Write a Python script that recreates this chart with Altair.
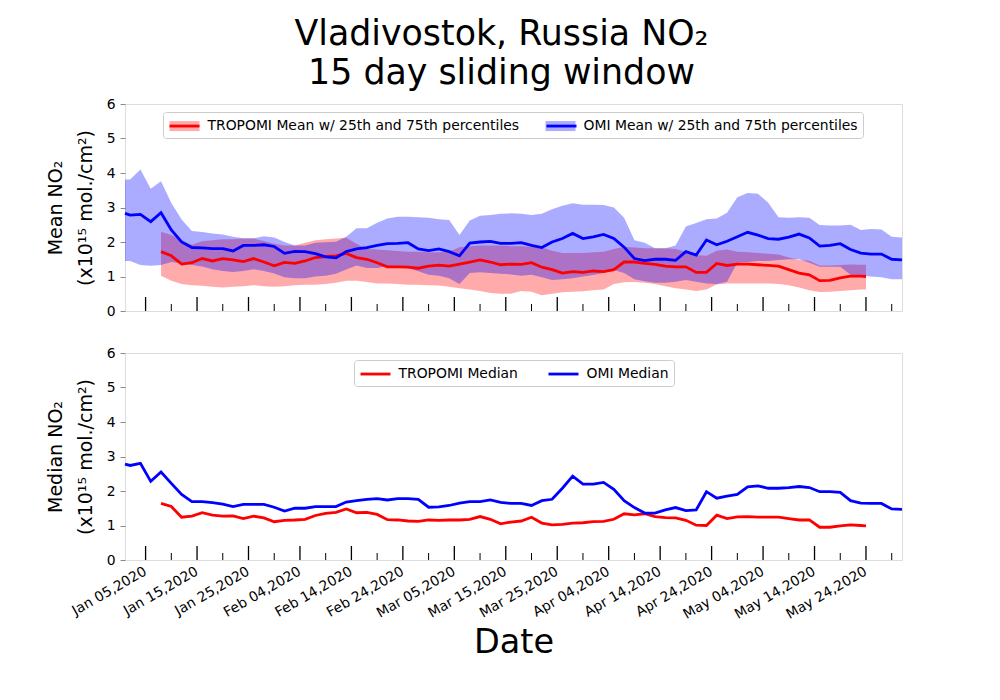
import altair as alt
import pandas as pd

START = pd.Timestamp("2020-01-01")
FONT = "DejaVu Sans"

# day offsets from 2020-01-01
omi_days = [0] + list(range(1, 152, 2))
trop_days = list(range(7, 144, 2)) + [144]

omi_mean = [2.83, 2.78, 2.80, 2.59, 2.85, 2.35, 2.00, 1.84, 1.83, 1.81,
            1.81, 1.74, 1.90, 1.90, 1.92, 1.87, 1.67, 1.73, 1.72, 1.66,
            1.57, 1.54, 1.72, 1.80, 1.84, 1.90, 1.95, 1.96, 1.98, 1.80,
            1.75, 1.80, 1.72, 1.60, 1.97, 2.00, 2.02, 1.96, 1.96, 1.98,
            1.90, 1.84, 2.00, 2.10, 2.25, 2.10, 2.15, 2.22, 2.10, 1.85,
            1.52, 1.46, 1.50, 1.50, 1.47, 1.72, 1.62, 2.06, 1.92, 2.02,
            2.15, 2.28, 2.20, 2.10, 2.08, 2.14, 2.23, 2.12, 1.88, 1.90,
            1.95, 1.78, 1.68, 1.65, 1.65, 1.50, 1.48]
omi_p75 = [3.81, 3.81, 4.10, 3.54, 3.76, 3.13, 2.65, 2.32, 2.29, 2.25,
           2.22, 2.15, 2.11, 2.11, 2.17, 2.13, 2.00, 1.90, 1.90, 1.98,
           1.99, 2.01, 2.15, 2.40, 2.40, 2.56, 2.68, 2.73, 2.73, 2.72,
           2.70, 2.66, 2.64, 2.20, 2.62, 2.76, 2.78, 2.82, 2.83, 2.82,
           2.78, 2.82, 2.95, 3.05, 3.12, 3.08, 3.08, 3.07, 3.00, 2.70,
           2.05, 1.98, 1.82, 1.82, 1.90, 2.45, 2.55, 2.66, 2.68, 2.85,
           3.30, 3.42, 3.40, 3.14, 2.72, 2.70, 2.72, 2.70, 2.49, 2.48,
           2.48, 2.50, 2.35, 2.38, 2.36, 2.15, 2.13]
omi_p25 = [1.45, 1.45, 1.33, 1.31, 1.33, 1.42, 1.38, 1.33, 1.29, 1.21,
           1.16, 1.13, 1.16, 1.21, 1.16, 1.09, 0.98, 0.95, 0.95, 1.00,
           1.02, 1.08, 1.20, 1.32, 1.25, 1.25, 1.30, 1.28, 1.25, 1.15,
           1.05, 1.02, 0.95, 0.78, 1.10, 1.12, 1.10, 1.08, 1.06, 1.02,
           1.05, 0.98, 0.90, 0.92, 0.95, 1.00, 1.04, 1.10, 1.19, 1.10,
           0.92, 0.86, 0.82, 0.82, 0.85, 0.90, 0.85, 0.80, 0.78, 0.85,
           1.40, 1.42, 1.45, 1.45, 1.48, 1.50, 1.50, 1.40, 1.28, 1.28,
           1.28, 1.05, 1.02, 1.00, 0.98, 0.92, 0.92]
omi_median = [2.78, 2.74, 2.80, 2.28, 2.55, 2.22, 1.90, 1.69, 1.69, 1.66,
              1.62, 1.55, 1.61, 1.61, 1.61, 1.53, 1.42, 1.50, 1.50, 1.55,
              1.55, 1.55, 1.68, 1.72, 1.76, 1.78, 1.74, 1.78, 1.78, 1.76,
              1.53, 1.54, 1.58, 1.65, 1.69, 1.69, 1.74, 1.67, 1.64, 1.64,
              1.58, 1.72, 1.76, 2.08, 2.43, 2.20, 2.20, 2.25, 2.05, 1.72,
              1.52, 1.36, 1.36, 1.45, 1.52, 1.43, 1.45, 1.98, 1.79, 1.85,
              1.90, 2.12, 2.15, 2.08, 2.08, 2.10, 2.13, 2.10, 1.98, 1.98,
              1.96, 1.72, 1.65, 1.64, 1.64, 1.48, 1.47]

trop_mean = [1.72, 1.60, 1.36, 1.40, 1.52, 1.45, 1.52, 1.48, 1.43, 1.52,
             1.42, 1.31, 1.41, 1.38, 1.45, 1.55, 1.58, 1.60, 1.67, 1.55,
             1.50, 1.40, 1.28, 1.28, 1.27, 1.24, 1.30, 1.33, 1.30, 1.36,
             1.42, 1.48, 1.42, 1.34, 1.36, 1.35, 1.40, 1.27, 1.20, 1.10,
             1.14, 1.12, 1.16, 1.14, 1.20, 1.42, 1.42, 1.38, 1.35, 1.30,
             1.28, 1.28, 1.12, 1.12, 1.38, 1.32, 1.36, 1.36, 1.34, 1.32,
             1.30, 1.20, 1.10, 1.05, 0.88, 0.89, 0.96, 1.01, 1.01, 1.00]
trop_p75 = [2.30, 2.20, 2.05, 1.92, 2.02, 2.05, 2.08, 2.08, 2.10, 2.10,
            2.03, 1.95, 1.90, 1.90, 1.98, 2.05, 2.08, 2.10, 2.12, 1.95,
            1.80, 1.78, 1.76, 1.74, 1.72, 1.72, 1.70, 1.70, 1.72, 1.85,
            1.88, 1.90, 1.90, 1.90, 1.88, 1.88, 1.86, 1.84, 1.75, 1.68,
            1.68, 1.68, 1.70, 1.72, 1.80, 1.86, 1.84, 1.82, 1.82, 1.82,
            1.80, 1.72, 1.62, 1.60, 1.75, 1.78, 1.72, 1.70, 1.68, 1.66,
            1.64, 1.55, 1.48, 1.46, 1.32, 1.32, 1.33, 1.35, 1.34, 1.34]
trop_p25 = [1.02, 0.88, 0.78, 0.75, 0.73, 0.70, 0.68, 0.70, 0.72, 0.75,
            0.72, 0.70, 0.72, 0.75, 0.76, 0.76, 0.78, 0.82, 0.88, 0.88,
            0.84, 0.80, 0.80, 0.78, 0.76, 0.76, 0.75, 0.74, 0.70, 0.66,
            0.62, 0.58, 0.52, 0.50, 0.50, 0.58, 0.56, 0.46, 0.50, 0.54,
            0.56, 0.57, 0.60, 0.62, 0.78, 0.83, 0.84, 0.82, 0.78, 0.72,
            0.66, 0.62, 0.58, 0.62, 0.77, 0.80, 0.80, 0.80, 0.80, 0.80,
            0.78, 0.75, 0.68, 0.60, 0.55, 0.56, 0.58, 0.60, 0.62, 0.62]
trop_median = [1.64, 1.55, 1.24, 1.27, 1.37, 1.30, 1.27, 1.28, 1.20, 1.27,
               1.22, 1.11, 1.15, 1.16, 1.18, 1.29, 1.35, 1.38, 1.48, 1.37,
               1.38, 1.32, 1.17, 1.16, 1.13, 1.12, 1.16, 1.15, 1.16, 1.16,
               1.18, 1.26, 1.18, 1.05, 1.10, 1.13, 1.24, 1.07, 1.02, 1.03,
               1.07, 1.08, 1.11, 1.12, 1.18, 1.34, 1.31, 1.34, 1.26, 1.23,
               1.22, 1.15, 1.01, 1.00, 1.30, 1.20, 1.25, 1.26, 1.24, 1.24,
               1.24, 1.20, 1.16, 1.16, 0.95, 0.95, 0.99, 1.02, 1.00, 0.99]

major_ticks = ["2020-01-05", "2020-01-15", "2020-01-25", "2020-02-04", "2020-02-14",
               "2020-02-24", "2020-03-05", "2020-03-15", "2020-03-25", "2020-04-04",
               "2020-04-14", "2020-04-24", "2020-05-04", "2020-05-14", "2020-05-24"]
minor_ticks = ["2020-01-10", "2020-01-20", "2020-01-30", "2020-02-09", "2020-02-19",
               "2020-02-29", "2020-03-10", "2020-03-20", "2020-03-30", "2020-04-09",
               "2020-04-19", "2020-04-29", "2020-05-09", "2020-05-19", "2020-05-29"]

BAND_LABELS = ["TROPOMI Mean w/ 25th and 75th percentiles",
               "OMI Mean w/ 25th and 75th percentiles"]
LINE_CODES = ["TROPOMI", "OMI"]
MEDIAN_LABELS = ["TROPOMI Median", "OMI Median"]
COLORS = ["#ff0000", "#0000ff"]

W, H = 777, 207


def to_dates(days):
    return [START + pd.Timedelta(days=d) for d in days]


def dt(s):
    t = pd.Timestamp(s)
    return alt.DateTime(year=t.year, month=t.month, date=t.day)


trop_band = pd.DataFrame({"date": to_dates(trop_days), "lo": trop_p25, "hi": trop_p75, "band": BAND_LABELS[0]})
omi_band = pd.DataFrame({"date": to_dates(omi_days), "lo": omi_p25, "hi": omi_p75, "band": BAND_LABELS[1]})
trop_line = pd.DataFrame({"date": to_dates(trop_days), "v": trop_mean, "code": LINE_CODES[0]})
omi_line = pd.DataFrame({"date": to_dates(omi_days), "v": omi_mean, "code": LINE_CODES[1]})
medians = pd.concat([
    pd.DataFrame({"date": to_dates(trop_days), "v": trop_median, "code": MEDIAN_LABELS[0]}),
    pd.DataFrame({"date": to_dates(omi_days), "v": omi_median, "code": MEDIAN_LABELS[1]}),
])
major_df = pd.DataFrame({"date": pd.to_datetime(major_ticks)})
minor_df = pd.DataFrame({"date": pd.to_datetime(minor_ticks)})

x_scale = alt.Scale(domain=[dt("2020-01-01"), dt("2020-05-31")])
y_scale = alt.Scale(domain=[0, 6], nice=False, zero=False)

bottom_x_axis = alt.Axis(values=[dt(s) for s in major_ticks], format="%b %d,%Y",
                         labelAngle=-30, labelAlign="right", labelBaseline="top",
                         labelPadding=4, labelOffset=-4, ticks=False, tickSize=0,
                         domain=False, grid=False,
                         labelFont=FONT, labelFontSize=13.9, title="Date", titleFont=FONT,
                         titleFontSize=33.5, titleFontWeight="normal",
                         titlePadding=5, labelOverlap=False)


def x_enc(axis):
    if axis is None:
        return alt.X("date:T", scale=x_scale, axis=None)
    return alt.X("date:T", scale=x_scale, axis=axis, title="Date")


def y_axis(title):
    return alt.Axis(values=[0, 1, 2, 3, 4, 5, 6], title=title, tickSize=4.9,
                    labelPadding=4.9, labelFont=FONT, labelFontSize=13.9,
                    titleFont=FONT, titleFontSize=19, titleFontWeight="normal",
                    titleLineHeight=30, titlePadding=11, grid=False, domain=False)


RECT_PATH = "M-2,-0.667H2V0.667H-2Z"
LINE_PATH = "M-2,0H2"

legend_common = dict(title=None, orient="none", direction="horizontal", columns=2,
                     symbolSize=225, symbolStrokeWidth=2.8, symbolOffset=7.5,
                     labelOffset=14, columnPadding=24, padding=5, labelLimit=600,
                     labelFont=FONT, labelFontSize=13.9, labelColor="black")

band_legend = alt.Legend(legendX=38, legendY=8, symbolType=RECT_PATH, symbolOpacity=0.33,
                         strokeColor="#cccccc", fillColor="white", cornerRadius=3,
                         zindex=0, **legend_common)


def line_legend(x):
    return alt.Legend(legendX=x, legendY=8, symbolType=LINE_PATH, labelExpr="''",
                      zindex=1, **legend_common)


median_legend = alt.Legend(legendX=229, legendY=7, symbolType=LINE_PATH,
                           strokeColor="#cccccc", fillColor="white", cornerRadius=3,
                           **legend_common)

fill_enc = alt.Fill("band:N", scale=alt.Scale(domain=BAND_LABELS, range=COLORS), legend=band_legend)

top_title = ["Mean NO\u2082", "(x10\u00b9\u2075 mol./cm\u00b2)"]
bottom_title = ["Median NO\u2082", "(x10\u00b9\u2075 mol./cm\u00b2)"]


def band_layer(df):
    return alt.Chart(df).mark_area(opacity=0.33).encode(
        x=x_enc(None),
        y=alt.Y("lo:Q", scale=y_scale, axis=y_axis(top_title), stack=None),
        y2="hi:Q",
        fill=fill_enc,
    )


trop_mean_layer = alt.Chart(trop_line).mark_line(strokeWidth=2.8).encode(
    x=x_enc(None),
    y=alt.Y("v:Q", scale=y_scale, axis=y_axis(top_title)),
    color=alt.Color("code:N", scale=alt.Scale(domain=[LINE_CODES[0]], range=[COLORS[0]]),
                    legend=line_legend(38)),
)
omi_mean_layer = alt.Chart(omi_line).mark_line(strokeWidth=2.8).encode(
    x=x_enc(None),
    y=alt.Y("v:Q", scale=y_scale, axis=y_axis(top_title)),
    stroke=alt.Stroke("code:N", scale=alt.Scale(domain=[LINE_CODES[1]], range=[COLORS[1]]),
                      legend=line_legend(415)),
)


def tick_layers(axis):
    major = alt.Chart(major_df).mark_rule(color="black", strokeWidth=1.3).encode(
        x=x_enc(axis), y=alt.value(H), y2=alt.value(H - 14))
    minor = alt.Chart(minor_df).mark_rule(color="black", strokeWidth=1.0).encode(
        x=x_enc(axis), y=alt.value(H), y2=alt.value(H - 7))
    return [major, minor]


top = alt.layer(band_layer(trop_band), band_layer(omi_band), trop_mean_layer, omi_mean_layer,
                *tick_layers(None)).properties(width=W, height=H)

bottom_lines = alt.Chart(medians).mark_line(strokeWidth=2.8).encode(
    x=x_enc(bottom_x_axis),
    y=alt.Y("v:Q", scale=y_scale, axis=y_axis(bottom_title)),
    color=alt.Color("code:N", scale=alt.Scale(domain=MEDIAN_LABELS, range=COLORS), legend=median_legend),
)
bottom = alt.layer(bottom_lines, *tick_layers(bottom_x_axis)).properties(width=W, height=H)

chart = alt.vconcat(top, bottom, spacing=42, bounds="flush").resolve_scale(
    color="independent", fill="independent", stroke="independent"
).resolve_legend(color="independent", fill="independent", stroke="independent").properties(
    title=alt.Title(["Vladivostok, Russia NO\u2082", "15 day sliding window"],
                    fontSize=34.8, font=FONT, fontWeight="normal", color="black",
                    anchor="middle", frame="group", dx=-12, lineHeight=39, offset=5),
    padding={"left": 37, "top": 8, "right": 10, "bottom": 10},
).configure_view(stroke="black", strokeWidth=1).configure_axis(
    labelFont=FONT, titleFont=FONT, labelColor="black", titleColor="black",
    titleFontWeight="normal", tickColor="black", labelFontSize=13.9
).configure(background="white")

chart.save("out.html", embed_options={"renderer": "svg", "actions": False})
